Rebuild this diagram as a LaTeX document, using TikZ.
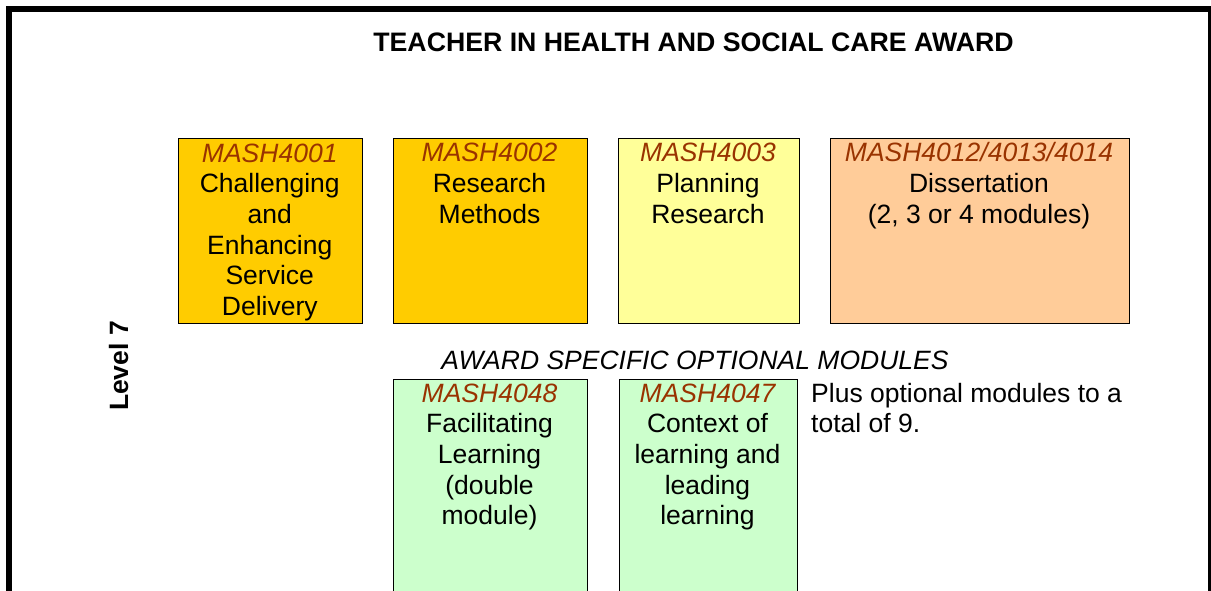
\documentclass[tikz,border=0pt]{standalone}
\usepackage{fontspec}
\setmainfont{Liberation Sans}
\definecolor{gold}{HTML}{FFCC00}
\definecolor{paleyellow}{HTML}{FFFF99}
\definecolor{peach}{HTML}{FFCC99}
\definecolor{mint}{HTML}{CCFFCC}
\definecolor{codered}{HTML}{993300}
\tikzset{
  modbox/.style={draw=black, line width=1pt, inner sep=0pt, anchor=north west},
  txt/.style={font=\fontsize{26.5}{30.7}\selectfont, align=center, anchor=base, inner sep=0pt},
}
\begin{document}
\begin{tikzpicture}[x=1pt,y=-1pt]
\useasboundingbox (0,0) rectangle (1211,591);
\clip (0,0) rectangle (1211,591);
% outer frame
\draw[line width=6pt] (9,640) -- (9,9) -- (1211,9) -- (1211,640);
% title
\node[txt, font=\fontsize{26.7}{30.7}\selectfont\bfseries] (title) at (693.5,52) {TEACHER IN HEALTH AND SOCIAL CARE AWARD};
% boxes
\node[modbox, fill=gold, minimum width=183.5pt, minimum height=184.5pt] (b1) at (178,138) {};
\node[modbox, fill=gold, minimum width=194pt, minimum height=184.5pt] (b2) at (392.5,138) {};
\node[modbox, fill=paleyellow, minimum width=181pt, minimum height=184.5pt] (b3) at (617.5,138) {};
\node[modbox, fill=peach, minimum width=299pt, minimum height=184.5pt] (b4) at (829.5,138) {};
\node[modbox, fill=mint, minimum width=194pt, minimum height=260pt] (g1) at (392.5,379) {};
\node[modbox, fill=mint, minimum width=178pt, minimum height=260pt] (g2) at (618.5,379) {};
% box texts (anchored at the baseline of their last line)
\node[txt] (t1) at (269.75,315.5) {{\color{codered}\itshape MASH4001}\\Challenging\\and\\Enhancing\\Service\\Delivery};
\node[txt] (t2) at (489.5,223.4) {{\color{codered}\itshape MASH4002}\\Research\\Methods};
\node[txt] (t3) at (708,223.4) {{\color{codered}\itshape MASH4003}\\Planning\\Research};
\node[txt] (t4) at (979,223.4) {{\color{codered}\itshape MASH4012/4013/4014}\\Dissertation\\(2, 3 or 4 modules)};
\node[txt, font=\fontsize{26.5}{30.7}\selectfont\itshape] (opt) at (695,369) {AWARD SPECIFIC OPTIONAL MODULES};
\node[txt] (t5) at (489.5,524.8) {{\color{codered}\itshape MASH4048}\\Facilitating\\Learning\\(double\\module)};
\node[txt] (t6) at (707.5,524.8) {{\color{codered}\itshape MASH4047}\\Context of\\learning and\\leading\\learning};
\node[txt, align=left, anchor=base west] (plus) at (811,432.7) {Plus optional modules to a\\total of 9.};
% level label
\node[txt, font=\fontsize{26.5}{30.7}\selectfont\bfseries, rotate=90] (lvl) at (128,366) {Level 7};
\end{tikzpicture}
\end{document}
